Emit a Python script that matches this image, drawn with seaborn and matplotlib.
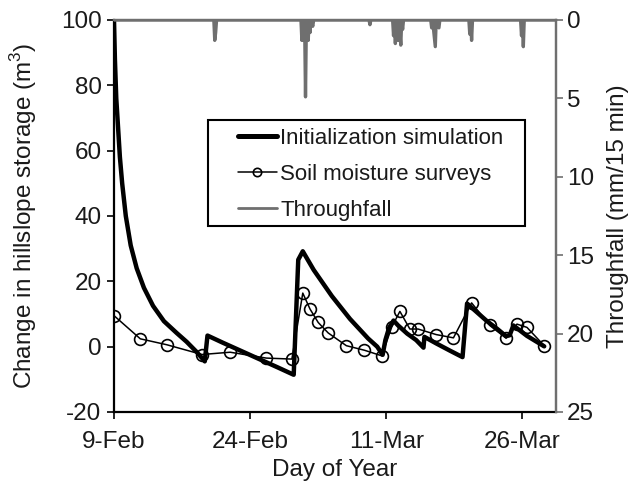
import matplotlib
matplotlib.use("Agg")
import matplotlib.pyplot as plt
import seaborn as sns
import pandas as pd
from matplotlib.lines import Line2D
from matplotlib.patches import Rectangle

# ---- data (days since 9-Feb) ----
sim_day = [0, 0.1, 0.25, 0.45, 0.65, 0.9, 1.3, 1.84, 2.5, 3.3, 4.3, 5.5, 6.9, 8.0, 9.1, 10.0, 10.3,
           12, 14, 16, 18, 19.8, 20.3, 20.8, 22, 23, 24, 25, 26, 27, 28, 29, 29.6,
           29.9, 30.3, 30.8, 31.3, 32.3, 33.3, 34.1, 34.2, 35.5, 37, 38.4, 38.9, 40,
           41.1, 42.2, 43.2, 43.6, 44.0, 45.5, 47.4]
sim_val = [100, 88, 76, 67, 58, 50, 40, 31, 24, 18, 12.5, 7.8, 4.2, 1.5, -1.6, -4.5, 3.4,
           1.2, -1.3, -3.8, -6.3, -8.6, 26.6, 29.2, 23.5, 19.5, 15.5, 12, 8.5, 5.5, 2.5, 0, -2.5,
           2, 5.7, 8.0, 6.5, 4, 2, -0.3, 3, 1, -1.2, -3.2, 13.2, 10.5,
           7.8, 5.5, 3.2, 3.5, 6.5, 3.3, 0.1]

surv_day = [0, 2.9, 5.8, 9.7, 12.8, 16.8, 19.6, 20.8, 21.6, 22.5, 23.6, 25.6, 27.6, 29.5,
            30.6, 31.5, 32.6, 33.5, 35.5, 37.4, 39.4, 41.4, 43.2, 44.4, 45.5, 47.4]
surv_val = [9.5, 2.4, 0.6, -2.4, -1.7, -3.5, -3.8, 16.4, 11.5, 7.4, 4.2, 0.3, -1.1, -2.8,
            6.0, 10.8, 5.4, 5.4, 3.7, 2.7, 13.4, 6.5, 2.6, 6.9, 5.9, 0.3]

tf_day = [0, 11.0, 11.1, 11.2, 11.3, 20.6, 20.7, 20.8, 20.9, 21.0, 21.1, 21.2, 21.4, 21.5,
          21.6, 21.7, 21.9, 22.0, 28.1, 28.2, 28.3, 30.7, 30.8, 30.9, 31.0, 31.1, 31.3,
          31.4, 31.6, 31.7, 31.8, 31.9, 34.9, 35.0, 35.1, 35.4, 35.5, 35.8, 35.9, 39.1,
          39.2, 39.3, 39.4, 39.5, 44.8, 44.9, 45.0, 45.1, 45.2, 48.7]
tf_val = [0, 0, 1.3, 0.8, 0, 0, 1.3, 0, 1.3, 0, 4.9, 0, 1.3, 0,
          0.8, 0, 0.4, 0, 0, 0.3, 0, 0, 1.0, 0, 1.5, 0, 1.3,
          0, 1.6, 0, 0.6, 0, 0, 0.5, 0, 1.7, 0, 0.5, 0, 0,
          0.9, 0, 1.3, 0, 0, 1.0, 0, 1.7, 0, 0]

xtick_pos = [0, 15, 30, 45]
xtick_labels = ["9-Feb", "24-Feb", "11-Mar", "26-Mar"]

sim_df = pd.DataFrame({"day": sim_day, "value": sim_val})
surv_df = pd.DataFrame({"day": surv_day, "value": surv_val})
tf_df = pd.DataFrame({"day": tf_day, "value": tf_val})

sns.set_theme(style="white")
plt.rcParams["font.family"] = ["Liberation Sans", "DejaVu Sans"]
plt.rcParams["mathtext.fontset"] = "custom"
plt.rcParams["mathtext.rm"] = "Liberation Sans"
plt.rcParams["axes.unicode_minus"] = False

fig = plt.figure(figsize=(6.44, 4.88), dpi=100)
ax = fig.add_axes([114/644, 1-412/488, 442/644, 392/488])
ax2 = ax.twinx()

TF_COLOR = "#6f6f6f"

sns.lineplot(data=sim_df, x="day", y="value", ax=ax, color="black", linewidth=3.2,
             estimator=None, sort=False, zorder=3)
sns.lineplot(data=surv_df, x="day", y="value", ax=ax, color="black", linewidth=1.1,
             marker="o", markersize=8.5, markerfacecolor="none", markeredgecolor="black",
             markeredgewidth=1.2, estimator=None, sort=False, zorder=4)
sns.lineplot(data=tf_df, x="day", y="value", ax=ax2, color=TF_COLOR, linewidth=2.4,
             estimator=None, sort=False)

ax.set_xlim(0, 48.7)
ax.set_ylim(-20, 100)
ax2.set_ylim(25, 0)
ax.set_yticks(range(-20, 101, 20))
ax2.set_yticks(range(0, 26, 5))
ax.set_xticks(xtick_pos)
ax.set_xticklabels(xtick_labels)

fs = 17.5
ax.tick_params(axis="both", labelsize=fs, direction="out", length=5, width=1.2,
               color="black", labelcolor="#1a1a1a")
ax.tick_params(axis="y", left=True, pad=4)
ax.tick_params(axis="x", bottom=True, pad=9)
ax2.tick_params(axis="y", labelsize=fs, direction="out", length=5, width=1.2,
                color=TF_COLOR, labelcolor="#1a1a1a", right=True, pad=3)

ax.set_xlabel("Day of Year", fontsize=fs, color="#1a1a1a")
ax.set_ylabel("Change in hillslope storage (m$^3$)", fontsize=fs, color="#1a1a1a")
ax2.set_ylabel("Throughfall (mm/15 min)", fontsize=fs, color="#1a1a1a")
ax.xaxis.set_label_coords(0.5, -0.12)
ax.yaxis.set_label_coords(-0.17, 0.5)
ax2.yaxis.set_label_coords(1.115, 0.5)

for s in ["left", "bottom"]:
    ax.spines[s].set_color("black")
    ax.spines[s].set_linewidth(1.6)
for a in (ax, ax2):
    a.spines["top"].set_color(TF_COLOR)
    a.spines["top"].set_linewidth(1.6)
    a.spines["right"].set_color(TF_COLOR)
    a.spines["right"].set_linewidth(1.6)
ax2.spines["left"].set_visible(False)
ax2.spines["bottom"].set_visible(False)
ax.grid(False)
ax2.grid(False)

handles = [
    Line2D([], [], color="black", linewidth=3.6),
    Line2D([], [], color="black", linewidth=1.1, marker="o", markersize=6,
           markerfacecolor="none", markeredgecolor="black", markeredgewidth=1.2),
    Line2D([], [], color=TF_COLOR, linewidth=2.0),
]
labels = ["Initialization simulation", "Soil moisture surveys", "Throughfall"]
leg = ax2.legend(handles, labels, loc="upper left",
                 bbox_to_anchor=((238-114)/442, (412-128)/392),
                 frameon=False, fontsize=16, borderpad=0, borderaxespad=0,
                 handlelength=1.75, handletextpad=0.15, labelspacing=0.68,
                 numpoints=1)
for t in leg.get_texts():
    t.set_color("#1a1a1a")
ax2.add_patch(Rectangle(((208-114)/442, (412-226)/392), (525-208)/442, (226-120)/392,
                        transform=ax2.transAxes, fill=True, facecolor="white",
                        edgecolor="black", linewidth=1.5, zorder=4))
leg.set_zorder(5)

fig.savefig("out.png", dpi=100)
